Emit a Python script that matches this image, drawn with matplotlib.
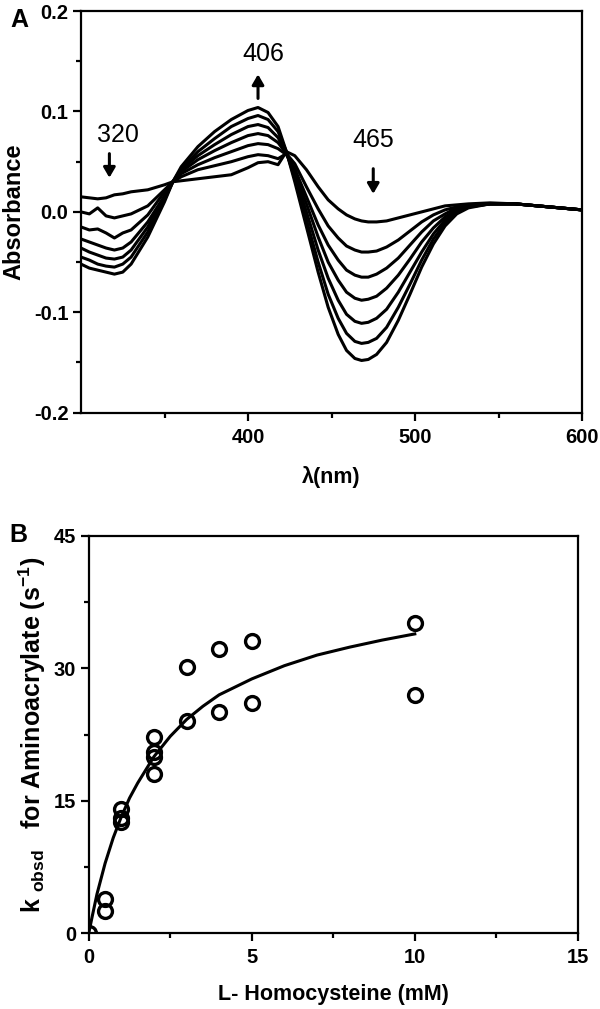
import matplotlib
matplotlib.use("Agg")
import matplotlib.pyplot as plt

plt.rcParams['font.family'] = ['Liberation Sans', 'DejaVu Sans']
plt.rcParams['mathtext.fontset'] = 'custom'
plt.rcParams['mathtext.rm'] = 'Liberation Sans:bold'
plt.rcParams['mathtext.bf'] = 'Liberation Sans:bold'
plt.rcParams['mathtext.default'] = 'bf'

# Panel A: difference spectra (7 time points)
wl = [300, 305, 310, 315, 320, 325, 330, 340, 350, 355, 360, 370, 380, 390, 400, 406,
      412, 418, 423, 428, 435, 442, 448, 454, 459, 464, 468, 472, 477, 483, 490, 497,
      504, 511, 518, 525, 532, 545, 560, 580, 600]

spec0 = [0.015, 0.014, 0.013, 0.014, 0.017, 0.018, 0.020, 0.022, 0.027, 0.030, 0.031, 0.033,
         0.035, 0.037, 0.044, 0.049, 0.050, 0.047, 0.060, 0.056, 0.042,
         0.025, 0.012, 0.003, -0.003, -0.007, -0.009, -0.010, -0.010, -0.009, -0.006, -0.003,
         0.000, 0.003, 0.006, 0.007, 0.008, 0.009, 0.008, 0.005, 0.002]
spec1 = [0.000, -0.002, 0.004, -0.004, -0.006, -0.004, -0.002, 0.006, 0.022, 0.030, 0.035,
         0.042, 0.046, 0.050, 0.055, 0.057, 0.056, 0.053, 0.058, 0.048, 0.025,
         0.003, -0.014, -0.026, -0.034, -0.038, -0.040, -0.040, -0.039, -0.035, -0.028, -0.019,
         -0.010, -0.003, 0.002, 0.005, 0.007, 0.008, 0.008, 0.005, 0.002]
spec2 = [-0.015, -0.018, -0.017, -0.021, -0.026, -0.021, -0.018, -0.003, 0.020, 0.030, 0.038,
         0.047, 0.054, 0.060, 0.066, 0.068, 0.067, 0.063, 0.057, 0.043, 0.015,
         -0.013, -0.033, -0.048, -0.058, -0.063, -0.065, -0.065, -0.062, -0.056, -0.046, -0.033,
         -0.020, -0.009, -0.002, 0.004, 0.006, 0.008, 0.008, 0.005, 0.002]
spec3 = [-0.027, -0.030, -0.033, -0.036, -0.038, -0.036, -0.030, -0.010, 0.016, 0.030, 0.040,
         0.052, 0.061, 0.069, 0.076, 0.078, 0.076, 0.069, 0.058, 0.040, 0.008,
         -0.025, -0.050, -0.068, -0.080, -0.086, -0.088, -0.087, -0.084, -0.076, -0.063, -0.047,
         -0.030, -0.016, -0.005, 0.002, 0.006, 0.008, 0.008, 0.005, 0.002]
spec4 = [-0.036, -0.040, -0.043, -0.046, -0.047, -0.045, -0.038, -0.015, 0.014, 0.030, 0.042,
         0.056, 0.067, 0.077, 0.085, 0.087, 0.084, 0.074, 0.059, 0.036, 0.000,
         -0.038, -0.066, -0.088, -0.102, -0.109, -0.111, -0.110, -0.106, -0.097, -0.080, -0.060,
         -0.040, -0.022, -0.008, 0.001, 0.005, 0.008, 0.008, 0.005, 0.002]
spec5 = [-0.045, -0.048, -0.052, -0.054, -0.055, -0.052, -0.045, -0.020, 0.012, 0.030, 0.043,
         0.060, 0.073, 0.085, 0.093, 0.096, 0.092, 0.080, 0.060, 0.033, -0.008,
         -0.050, -0.082, -0.106, -0.121, -0.129, -0.131, -0.130, -0.126, -0.115, -0.095, -0.072,
         -0.048, -0.027, -0.011, 0.000, 0.005, 0.008, 0.008, 0.005, 0.002]
spec6 = [-0.052, -0.056, -0.058, -0.060, -0.062, -0.060, -0.052, -0.025, 0.010, 0.030, 0.045,
         0.065, 0.080, 0.092, 0.101, 0.104, 0.099, 0.085, 0.060, 0.030, -0.015,
         -0.060, -0.095, -0.122, -0.138, -0.146, -0.148, -0.147, -0.142, -0.130, -0.108, -0.082,
         -0.055, -0.032, -0.014, -0.002, 0.004, 0.008, 0.008, 0.005, 0.002]
spectra = [spec0, spec1, spec2, spec3, spec4, spec5, spec6]

# Panel B: kobsd vs L-homocysteine
conc = [0, 0.5, 0.5, 1, 1, 1, 2, 2, 2, 2, 3, 3, 4, 4, 5, 5, 10, 10]
kobs = [0, 3.9, 2.5, 14.1, 13.0, 12.6, 22.2, 20.5, 20.0, 18.0, 30.1, 24.0, 32.2, 25.1,
        33.1, 26.1, 35.1, 27.0]
fit_x = [0, 0.1, 0.25, 0.5, 0.75, 1, 1.25, 1.5, 2, 2.5, 3, 3.5, 4, 5, 6, 7, 8, 9, 10]
fit_y = [0, 1.8, 4.4, 7.9, 10.8, 13.2, 15.3, 17.0, 20.0, 22.3, 24.2, 25.7, 27.0, 28.8,
         30.3, 31.5, 32.4, 33.2, 33.9]

fig = plt.figure(figsize=(6, 10.09), dpi=100)

def style_axes(ax):
    for s in ax.spines.values():
        s.set_linewidth(1.6)
    ax.tick_params(which='both', direction='out', top=False, right=False, width=1.6)
    ax.tick_params(which='major', length=6, labelsize=14.5)
    ax.tick_params(axis='x', which='major', pad=5)
    ax.tick_params(axis='y', which='major', pad=3)
    ax.tick_params(which='minor', length=3.5)
    for lab in ax.get_xticklabels() + ax.get_yticklabels():
        lab.set_fontweight('bold')

# ---- Panel A
axA = fig.add_axes([0.135, 0.591, 0.835, 0.398])
for sp in spectra:
    axA.plot(wl, sp, color='black', lw=2.2, solid_joinstyle='round')
axA.set_xlim(300, 600)
axA.set_ylim(-0.2, 0.2)
axA.set_xticks([400, 500, 600])
axA.set_xticks([350, 450, 550], minor=True)
axA.set_yticks([-0.2, -0.1, 0.0, 0.1, 0.2])
axA.set_yticks([-0.15, -0.05, 0.05, 0.15], minor=True)
axA.set_yticklabels(['-0.2', '-0.1', '0.0', '0.1', '0.2'])
style_axes(axA)
axA.set_xlabel('λ(nm)', fontsize=15.5, fontweight='bold', labelpad=14)
axA.set_ylabel('Absorbance', fontsize=17, fontweight='bold', labelpad=6)

arr = dict(arrowstyle='-|>,head_width=0.35,head_length=0.6', lw=2.2, color='black',
           shrinkA=0, shrinkB=0)
axA.annotate('', xy=(317, 0.034), xytext=(317, 0.058), arrowprops=arr)
axA.annotate('', xy=(406, 0.137), xytext=(406, 0.113), arrowprops=arr)
axA.annotate('', xy=(475, 0.018), xytext=(475, 0.043), arrowprops=arr)
axA.text(322, 0.077, '320', fontsize=18, ha='center', va='center')
axA.text(409, 0.157, '406', fontsize=18, ha='center', va='center')
axA.text(475, 0.072, '465', fontsize=18, ha='center', va='center')
fig.text(0.033, 0.980, 'A', fontsize=18, fontweight='bold', ha='center', va='center')

# ---- Panel B
axB = fig.add_axes([0.148, 0.0753, 0.815, 0.3935])
axB.plot(fit_x, fit_y, color='black', lw=2.2)
axB.plot(conc, kobs, 'o', mfc='none', mec='black', ms=10, mew=2.4)
axB.set_xlim(0, 15)
axB.set_ylim(0, 45)
axB.set_xticks([0, 5, 10, 15])
axB.set_xticks([2.5, 7.5, 12.5], minor=True)
axB.set_yticks([0, 15, 30, 45])
axB.set_yticks([7.5, 22.5, 37.5], minor=True)
style_axes(axB)
axB.set_xlabel('L- Homocysteine (mM)', fontsize=15.5, fontweight='bold', labelpad=12)
axB.set_ylabel(r'k $_{\mathbf{obsd}}$   for Aminoacrylate (s$^{\mathbf{-1}}$)',
               fontsize=18, fontweight='bold', labelpad=4)
fig.text(0.030, 0.470, 'B', fontsize=18, fontweight='bold', ha='center', va='center')

fig.savefig('out.png', dpi=100)
